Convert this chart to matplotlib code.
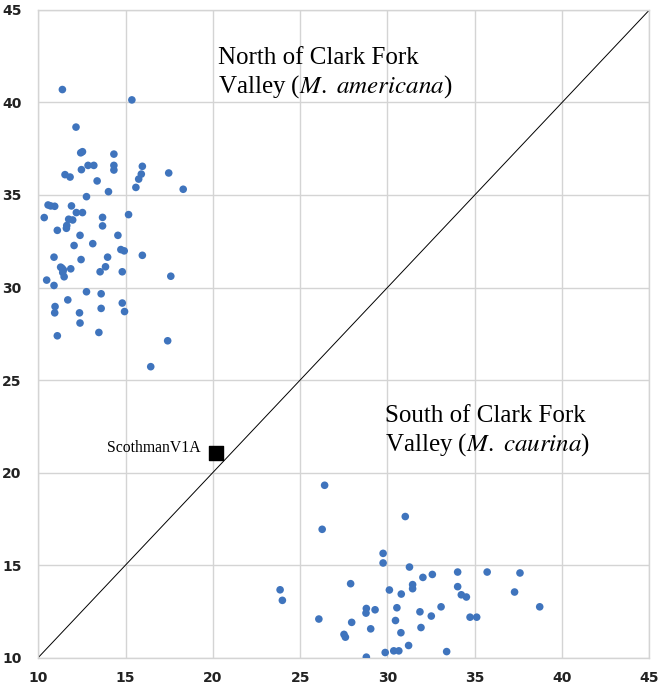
import matplotlib.pyplot as plt

# North of Clark Fork (M. americana)
north_x = [11.38, 15.36, 12.16, 12.43, 12.53, 14.33, 12.85, 13.18, 14.33, 14.33,
           12.47, 15.96, 15.90, 15.75, 15.59, 17.47, 18.30, 11.53, 11.82, 13.37,
           14.02, 12.76, 10.56, 10.71, 10.94, 10.34, 11.90, 12.18, 12.53, 13.68,
           13.68, 15.17, 11.74, 11.97, 11.63, 11.61, 11.09, 12.39, 14.56, 13.12,
           12.05, 14.73, 14.92, 10.90, 12.45, 13.97, 15.96, 13.85, 13.54, 14.81,
           11.28, 11.44, 11.86, 11.40, 11.48, 17.59, 10.48, 10.90, 12.76, 13.60,
           11.69, 10.96, 10.94, 12.36, 13.60, 14.81, 14.94, 12.39, 11.09, 13.47,
           17.41, 16.44, 11.36]
north_y = [40.70, 40.14, 38.67, 37.28, 37.34, 37.21, 36.60, 36.60, 36.60, 36.35,
           36.37, 36.55, 36.13, 35.86, 35.41, 36.19, 35.31, 36.10, 35.97, 35.76,
           35.18, 34.91, 34.46, 34.41, 34.39, 33.78, 34.41, 34.05, 34.05, 33.79,
           33.33, 33.94, 33.69, 33.65, 33.35, 33.20, 33.09, 32.82, 32.82, 32.37,
           32.27, 32.05, 31.98, 31.64, 31.51, 31.64, 31.74, 31.12, 30.85, 30.85,
           31.10, 30.95, 31.01, 30.81, 30.58, 30.61, 30.40, 30.11, 29.77, 29.66,
           29.33, 28.97, 28.63, 28.63, 28.87, 29.16, 28.70, 28.08, 27.39, 27.57,
           27.12, 25.72, 31.04]

# South of Clark Fork (M. caurina)
south_x = [26.40, 26.26, 31.02, 29.75, 29.75, 31.26, 23.85, 23.98, 27.89, 26.07,
           27.95, 27.51, 27.59, 28.79, 28.77, 29.29, 29.04, 28.79, 29.87, 30.36,
           30.65, 31.21, 30.77, 30.46, 30.54, 30.11, 30.79, 31.44, 31.44, 32.03,
           32.57, 31.86, 31.92, 32.51, 33.07, 33.39, 34.02, 34.02, 34.23, 34.52,
           34.73, 35.11, 35.71, 37.59, 37.28, 38.72]
south_y = [19.31, 16.93, 17.62, 15.63, 15.11, 14.89, 13.66, 13.09, 13.99, 12.08,
           11.90, 11.25, 11.10, 12.65, 12.40, 12.58, 11.55, 10.02, 10.27, 10.36,
           10.36, 10.65, 11.34, 12.00, 12.69, 13.65, 13.43, 13.94, 13.72, 14.33,
           14.49, 12.47, 11.62, 12.24, 12.74, 10.32, 14.62, 13.83, 13.39, 13.27,
           12.18, 12.18, 14.62, 14.57, 13.54, 12.74]

scothman_x = 20.18
scothman_y = 21.07

ticks = [10, 15, 20, 25, 30, 35, 40, 45]

plt.rcParams["mathtext.fontset"] = "stix"

fig = plt.figure(figsize=(6.66, 6.89), dpi=100)
ax = fig.add_axes([0.0575, 0.0457, 0.9175, 0.9398])

ax.plot([10, 45], [10, 45], color="black", linewidth=0.7, zorder=2)
dot_color = "#3f74bd"
ax.scatter(north_x, north_y, s=30, color=dot_color, edgecolors="none", zorder=3)
ax.scatter(south_x, south_y, s=30, color=dot_color, edgecolors="none", zorder=3)
ax.scatter([scothman_x], [scothman_y], s=95, marker="s", color="black", zorder=4)

ax.text(scothman_x - 0.9, scothman_y + 0.25, "ScothmanV1A", family="Liberation Serif",
        fontsize=11.3, ha="right", va="center")
ax.text(20.3, 43.0, "North of Clark Fork\nValley ($\\mathit{M.}$ $\\mathit{americana}$)",
        family="Liberation Serif", fontsize=18, ha="left", va="top", linespacing=1.22)
ax.text(29.87, 23.65, "South of Clark Fork\nValley ($\\mathit{M.}$ $\\mathit{caurina}$)",
        family="Liberation Serif", fontsize=18, ha="left", va="top", linespacing=1.22)

ax.set_xlim(10, 45)
ax.set_ylim(10, 45)
ax.set_xticks(ticks)
ax.set_yticks(ticks)
ax.grid(True, color="#d4d4d4", linewidth=1.0)
ax.set_axisbelow(True)
for s in ax.spines.values():
    s.set_color("#d4d4d4")
    s.set_linewidth(1.0)
ax.tick_params(length=0, labelsize=10, labelcolor="#222222")
ax.tick_params(axis="x", pad=10)
ax.tick_params(axis="y", pad=12)
for lbl in ax.get_xticklabels() + ax.get_yticklabels():
    lbl.set_fontweight("bold")

plt.savefig("out.png", dpi=100)
